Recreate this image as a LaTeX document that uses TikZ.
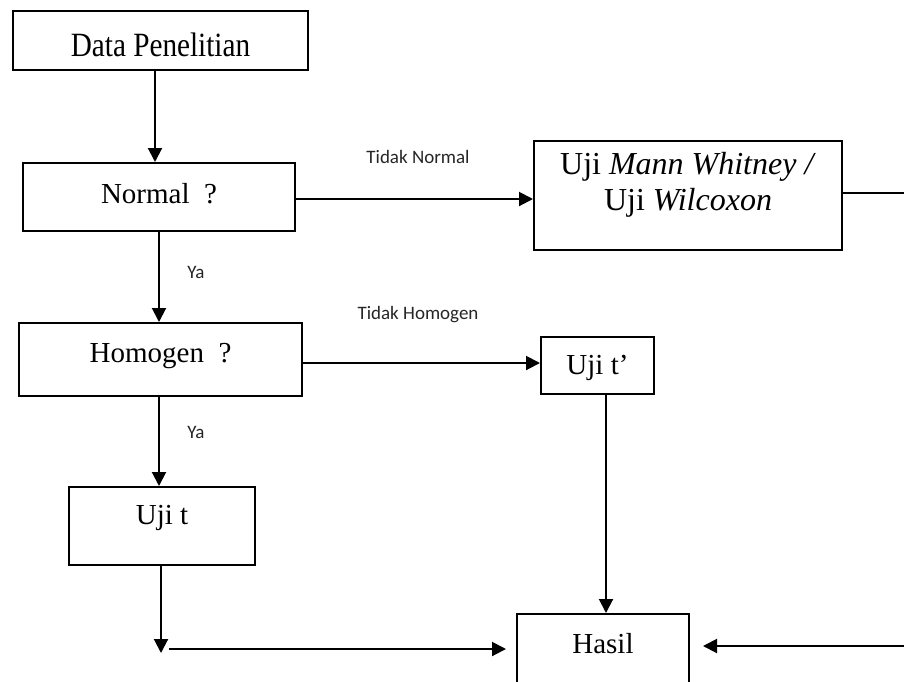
\documentclass[tikz,border=0pt]{standalone}
\usepackage{fontspec}
\setmainfont{Liberation Serif}
\newfontfamily\lblfont{Carlito}
\newfontfamily\datafont[FakeStretch=0.86]{Liberation Serif}
\usetikzlibrary{arrows.meta}
\begin{document}
\begin{tikzpicture}[x=1pt,y=-1pt,
  box/.style={draw, line width=2pt, inner xsep=0pt, inner ysep=0pt, anchor=north,
    font=\fontsize{29}{36}\selectfont},
  arr/.style={line width=2pt, -{Triangle[length=14pt,width=14pt]}},
  ln/.style={line width=2pt},
  lbl/.style={font=\lblfont\fontsize{19}{22}\selectfont, text=black!85, inner sep=0pt}]
\useasboundingbox (0,0) rectangle (904,681);
\clip (0,0) rectangle (904,681);

% boxes
\node[box, font=\datafont\fontsize{34}{40}\selectfont, minimum width=295pt, text height=45pt, text depth=14pt] (data) at (160.5,10) {Data Penelitian};
\node[box, minimum width=272pt, text height=40pt, text depth=28pt] (normal) at (159,162) {Normal\ \ ?};
\node[box, minimum width=283pt, text height=39pt, text depth=34pt] (homogen) at (160.5,322) {Homogen\ \ ?};
\node[box, minimum width=186pt, text height=37pt, text depth=41pt] (ujit) at (162,486) {Uji t};
\node[box, minimum width=113pt, text height=37pt, text depth=20pt] (ujitp) at (597.5,336) {Uji t’};
\node[box, minimum width=172pt, text height=39pt, text depth=61pt] (hasil) at (603,613) {Hasil};
\node[box, minimum width=308pt, minimum height=109pt] (mw) at (688,140) {};
\node[font=\fontsize{32}{36}\selectfont, align=center, inner sep=0pt] (mwtext) at (688,185)
  {Uji \textit{Mann Whitney /}\\Uji \textit{Wilcoxon}};

% labels
\node[lbl] (l1) at (418,157) {Tidak Normal};
\node[lbl] (l2) at (418,315) {Tidak Homogen};
\node[lbl] (l3) at (196,272) {Ya};
\node[lbl] (l4) at (196,432) {Ya};

% connectors
\draw[arr] ([xshift=-5.5pt]data.south) -- ([xshift=-5.5pt]data.south |- normal.north);
\draw[arr] ([yshift=-2pt]normal.east) -- ([yshift=-2pt]normal.east -| mw.west);
\coordinate (re1) at (904,193);
\draw[ln] (mw.east |- re1) -- (re1);
\draw[arr] (normal.south) -- (normal.south |- homogen.north);
\draw[arr] ([yshift=-3.5pt]homogen.east) -- ([yshift=-3.5pt]homogen.east -| ujitp.west);
\draw[arr] ([xshift=-1.5pt]homogen.south) -- ([xshift=-1.5pt]homogen.south |- ujit.north);
\draw[arr] ([xshift=3pt]hasil.north |- ujitp.south) -- ([xshift=3pt]hasil.north);
\coordinate (c2) at (161,653);
\draw[arr] (ujit.south -| c2) -- (c2);
\coordinate (c3) at (169,649);
\draw[arr, shorten >=10pt] (c3) -- (c3 -| hasil.west);
\coordinate (re2) at (904,646);
\draw[arr, shorten >=13pt] (re2) -- (re2 -| hasil.east);
\end{tikzpicture}
\end{document}
